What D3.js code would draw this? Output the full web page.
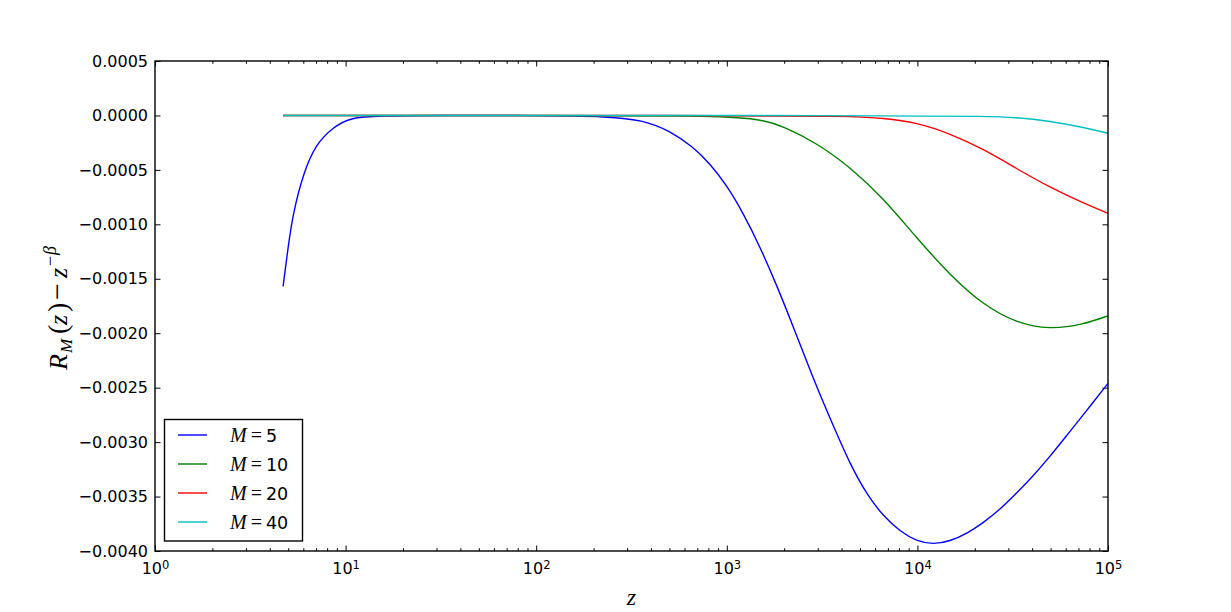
<!DOCTYPE html>
<html>
<head>
<meta charset="utf-8">
<script src="https://cdn.jsdelivr.net/npm/d3@7"></script>
<style>
  body { margin: 0; background: #fff; }
  svg { display: block; }
  .tick text { font-family: "DejaVu Sans", sans-serif; font-size: 16px; fill: #000; }
  .tick line { stroke: #000; stroke-width: 1; }
</style>
</head>
<body>
<div id="chart"></div>
<script>
// values
const seriesNames = ["5", "10", "20", "40"];
const seriesColors = ["#0000ff", "#008000", "#ff0000", "#00bfbf"];

const zM5 = [4.7, 5.0, 5.3, 6.0, 7.0, 8.6, 10.5, 15, 30, 100, 244, 365, 501, 667, 813, 998, 1222, 1497, 1828, 2233, 2965, 3622, 4426, 5420, 6622, 8110, 9910, 12106, 14830, 18155, 22180, 27100, 33110, 40550, 49660, 60670, 74130, 100000];
const vM5 = [-0.00157, -0.00120, -0.00090, -0.00053, -0.00026, -0.00011, -0.00002, -0.000003, 0, 0, -0.00001, -0.000044, -0.00014, -0.00029, -0.00044, -0.00064, -0.00090, -0.00121, -0.00156, -0.00194, -0.00250, -0.00285, -0.00320, -0.00348, -0.00368, -0.00382, -0.00391, -0.00394, -0.00391, -0.00384, -0.00374, -0.00362, -0.00347, -0.00331, -0.00313, -0.00294, -0.00275, -0.00246];

const zM10 = [4.7, 100, 800, 1497, 1982, 2965, 4430, 6620, 9910, 14830, 22180, 33110, 49660, 74130, 100000];
const vM10 = [0, 0, 0, -0.00003, -0.00010, -0.000253, -0.000474, -0.000759, -0.001126, -0.001466, -0.001741, -0.001907, -0.001966, -0.00192, -0.00184];

const zM20 = [4.7, 1000, 4430, 6620, 9910, 14830, 22180, 33110, 49660, 74130, 100000];
const vM20 = [0, 0, -0.000007, -0.000024, -0.000065, -0.000166, -0.000309, -0.000488, -0.000662, -0.000805, -0.000899];

const zM40 = [4.7, 10000, 22180, 33110, 49660, 74130, 100000];
const vM40 = [0, 0, -0.000008, -0.000018, -0.000051, -0.000109, -0.000164];

const xDecades = [1, 10, 100, 1000, 10000, 100000];
const yTicks = [0.0005, 0, -0.0005, -0.0010, -0.0015, -0.0020, -0.0025, -0.0030, -0.0035, -0.0040];

const width = 1231,
  height = 612,
  margin = ({ top: 61, right: 123, bottom: 61, left: 155 });

const svg = d3.select("#chart")
  .append("svg")
  .attr("width", width)
  .attr("height", height);

const x = d3.scaleLog()
  .domain([1, 1e5])
  .range([margin.left, width - margin.right]);

const y = d3.scaleLinear()
  .domain([-0.0040, 0.0005])
  .range([height - margin.bottom, margin.top]);

// minor ticks 2..9 in each decade
let xMinor = [];
for (let d of xDecades.slice(0, -1)) {
  for (let k = 2; k <= 9; k++) xMinor.push(d * k);
}

const majorLen = 5.5, minorLen = 2.8;
const yFmt = d => d3.format(".4f")(d).replace("-", "\u2212");

// bottom axis
let gx = svg.append("g")
  .attr("transform", `translate(0,${height - margin.bottom})`)
  .call(d3.axisBottom(x).tickValues(xDecades).tickSizeInner(-majorLen).tickSizeOuter(0).tickPadding(12));
gx.selectAll(".tick text").each(function (d) {
  const t = d3.select(this);
  t.text("10");
  t.append("tspan")
    .attr("dy", "-0.45em")
    .attr("font-size", "11.5px")
    .text(Math.round(Math.log10(d)));
});
svg.append("g")
  .attr("transform", `translate(0,${height - margin.bottom})`)
  .call(d3.axisBottom(x).tickValues(xMinor).tickSizeInner(-minorLen).tickSizeOuter(0).tickFormat(""));

// top axis (ticks only)
svg.append("g")
  .attr("transform", `translate(0,${margin.top})`)
  .call(d3.axisTop(x).tickValues(xDecades).tickSizeInner(-majorLen).tickSizeOuter(0).tickFormat(""));
svg.append("g")
  .attr("transform", `translate(0,${margin.top})`)
  .call(d3.axisTop(x).tickValues(xMinor).tickSizeInner(-minorLen).tickSizeOuter(0).tickFormat(""));

// left + right axes
svg.append("g")
  .attr("transform", `translate(${margin.left},0)`)
  .call(d3.axisLeft(y).tickValues(yTicks).tickSizeInner(-majorLen).tickSizeOuter(0).tickPadding(7).tickFormat(yFmt));
svg.append("g")
  .attr("transform", `translate(${width - margin.right},0)`)
  .call(d3.axisRight(y).tickValues(yTicks).tickSizeInner(-majorLen).tickSizeOuter(0).tickFormat(""));

svg.selectAll(".domain").remove();

// curves
const allSeries = [[zM5, vM5], [zM10, vM10], [zM20, vM20], [zM40, vM40]];

let line = d3.line()
  .x(d => x(d[0]))
  .y(d => y(d[1]))
  .curve(d3.curveBasis);

allSeries.forEach((s, i) => {
  let pts = s[0].map((z, j) => [z, s[1][j]]);
  svg.append("path")
    .datum(pts)
    .attr("fill", "none")
    .attr("stroke", seriesColors[i])
    .attr("stroke-width", 1.4)
    .attr("d", line);
});

// frame
svg.append("rect")
  .attr("x", margin.left)
  .attr("y", margin.top)
  .attr("width", width - margin.left - margin.right)
  .attr("height", height - margin.top - margin.bottom)
  .attr("fill", "none")
  .attr("stroke", "#000")
  .attr("stroke-width", 1.4);

// legend
const lg = svg.append("g");
lg.append("rect")
  .attr("x", 164.5).attr("y", 419.5)
  .attr("width", 138).attr("height", 121.5)
  .attr("fill", "#fff")
  .attr("stroke", "#000")
  .attr("stroke-width", 1.4);

seriesNames.forEach((name, i) => {
  const ry = 435 + i * 29;
  lg.append("line")
    .attr("x1", 178).attr("x2", 207)
    .attr("y1", ry).attr("y2", ry)
    .attr("stroke", seriesColors[i])
    .attr("stroke-width", 1.4);
  const t = lg.append("text")
    .attr("x", 230).attr("y", ry + 6.5);
  t.append("tspan")
    .attr("font-family", "'Liberation Serif', serif")
    .attr("font-style", "italic")
    .attr("font-size", "20px")
    .text("M");
  t.append("tspan")
    .attr("font-family", "'Liberation Serif', serif")
    .attr("dx", 4)
    .attr("font-size", "20px")
    .text("=");
  t.append("tspan")
    .attr("font-family", "'DejaVu Sans', sans-serif")
    .attr("font-size", "17.5px")
    .attr("dx", 4)
    .text(name);
});

// axis labels
svg.append("text")
  .attr("x", (margin.left + width - margin.right) / 2)
  .attr("y", 605)
  .attr("text-anchor", "middle")
  .attr("font-family", "'Liberation Serif', serif")
  .attr("font-style", "italic")
  .attr("font-size", "24px")
  .text("z");

// y label, rotated: R_M (z) - z^-beta
const yl = svg.append("text")
  .attr("transform", "translate(67,370) rotate(-90)")
  .attr("font-family", "'Liberation Serif', serif")
  .attr("font-size", "26px");
const ylParts = [
  { t: "R", x: 0, y: 0, s: 26, i: true },
  { t: "M", x: 17, y: 5, s: 17, i: true },
  { t: "(", x: 36, y: 0, s: 28, i: false },
  { t: "z", x: 45, y: 0, s: 26, i: true },
  { t: ")", x: 58, y: 0, s: 28, i: false },
  { t: "\u2212", x: 70, y: 0, s: 30, i: false },
  { t: "z", x: 92, y: 0, s: 26, i: true },
  { t: "\u2212", x: 104, y: -11, s: 18, i: false },
  { t: "\u03b2", x: 115, y: -11, s: 18, i: true }
];
ylParts.forEach(p => {
  yl.append("tspan")
    .attr("x", p.x).attr("y", p.y)
    .attr("font-size", p.s + "px")
    .attr("font-style", p.i ? "italic" : "normal")
    .text(p.t);
});
</script>
</body>
</html>
